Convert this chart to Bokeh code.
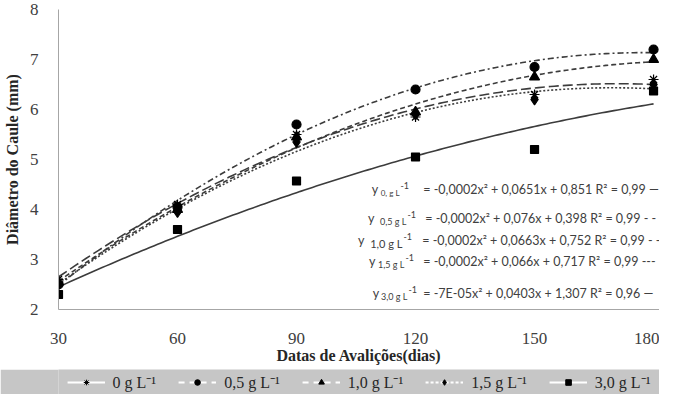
import numpy as np
from bokeh.plotting import figure
from bokeh.models import Legend, LegendItem, Label, FixedTicker, Range1d
from bokeh.layouts import column
from bokeh.embed import file_html
from bokeh.resources import INLINE

# ---------------- data ----------------
dias = [30, 60, 90, 120, 150, 180]
d_0g = [2.6, 4.1, 5.5, 5.85, 6.3, 6.6]
d_05g = [2.5, 4.05, 5.7, 6.4, 6.85, 7.2]
d_10g = [2.55, 4.0, 5.45, 5.95, 6.65, 7.0]
d_15g = [2.5, 3.95, 5.35, 5.9, 6.2, 6.5]
d_30g = [2.3, 3.6, 4.57, 5.05, 5.2, 6.37]

series_labels = ["0 g L⁻¹", "0,5 g L⁻¹", "1,0 g L⁻¹", "1,5 g L⁻¹", "3,0 g L⁻¹"]
eq_sub = ["0, g L", "0,5 g L", "1,0 g L", "1,5 g L", "3,0 g L"]
eq_text = [
    "= -0,0002x² + 0,0651x + 0,851 R² = 0,99 —",
    "= -0,0002x² + 0,076x + 0,398 R² = 0,99 - -",
    "= -0,0002x² + 0,0663x + 0,752 R² = 0,99  - -",
    "= -0,0002x² + 0,066x + 0,717 R² = 0,99 ---",
    "= -7E-05x² + 0,0403x + 1,307 R² = 0,96 —",
]
x_ticks = [30, 60, 90, 120, 150, 180]
y_ticks = [2, 3, 4, 5, 6, 7, 8]
x_title = "Datas de Avalições(dias)"
y_title = "Diâmetro do Caule (mm)"

series = [d_0g, d_05g, d_10g, d_15g, d_30g]

# ---------------- styles ----------------
markers = ["asterisk", "circle", "triangle", "diamond", "square"]
msizes = [10, 9, 10, 11, 8]
dashes = ["10 4", "6 3 2 3", "5 3", "2 2", "solid"]
leg_dashes = ["solid", "6 5", "6 5", "3 2", "solid"]
line_col = "#3c3c3c"
text_col = "#404040"
serif = "Liberation Serif"

X0, X1 = 30, 181.5
# page-pixel helpers (frame: x 59..667, y 17..317)
def X(px):
    return X0 + (px - 59) * (X1 - X0) / 608.0

def Y(py):
    return 2 + (317 - py) / 50.0

p = figure(width=659, height=369, output_backend="svg", toolbar_location=None,
           x_range=Range1d(X0, X1), y_range=Range1d(2, 8),
           min_border_left=51, min_border_right=0, min_border_top=9, min_border_bottom=60)
p.grid.visible = False
p.outline_line_color = None
p.background_fill_color = "white"

for ax in (p.xaxis[0], p.yaxis[0]):
    ax.axis_line_color = "#a6a6a6"
    ax.axis_line_width = 1
    ax.major_tick_line_color = None
    ax.minor_tick_line_color = None
    ax.major_label_text_font = serif
    ax.major_label_text_font_size = "17px"
    ax.major_label_text_color = text_col
    ax.axis_label_text_font = serif
    ax.axis_label_text_font_size = "16px"
    ax.axis_label_text_font_style = "bold"
    ax.axis_label_text_color = "#262626"

p.xaxis.ticker = FixedTicker(ticks=x_ticks)
p.yaxis.ticker = FixedTicker(ticks=y_ticks)
p.xaxis.axis_label = x_title
p.yaxis.axis_label = y_title
p.xaxis.major_label_standoff = 17
p.xaxis.axis_label_standoff = 0
p.yaxis.major_label_standoff = 14
p.yaxis.axis_label_standoff = 6

# trend lines (least-squares quadratic fitted to each series, as the chart's trendlines)
xs_fit = np.linspace(30, 180, 151)
for vals, dash in zip(series, dashes):
    c = np.polyfit(dias, vals, 2)
    p.line(xs_fit, np.polyval(c, xs_fit), line_color=line_col, line_width=1.6, line_dash=dash)

for vals, mk, ms in zip(series, markers, msizes):
    p.scatter(dias, vals, marker=mk, size=ms, fill_color="black", line_color="black", line_width=1.2)

# equation texts
rows_y = [197, 226, 248, 269, 301]
y_x = [376, 372, 362, 373, 377]
sup_x = [405, 412, 408, 410, 413]
sub_fs = ["8px", "9px", "11px", "9px", "9px"]
eq_x = [428, 430, 427, 428, 428]
for i in range(5):
    p.add_layout(Label(x=X(y_x[i]), y=Y(rows_y[i]), text="y", text_font="Lato",
                       text_font_size="12.5px", text_color=text_col,
                       text_baseline="middle", text_align="left"))
    p.add_layout(Label(x=X(sup_x[i] - 1), y=Y(rows_y[i] + 3), text=eq_sub[i], text_font="Lato",
                       text_font_size=sub_fs[i], text_color=text_col,
                       text_baseline="middle", text_align="right"))
    p.add_layout(Label(x=X(sup_x[i]), y=Y(rows_y[i] - 4), text="-1", text_font="Lato",
                       text_font_size="9px", text_color=text_col,
                       text_baseline="middle", text_align="left"))
    p.add_layout(Label(x=X(eq_x[i]), y=Y(rows_y[i]), text=eq_text[i], text_font="Lato",
                       text_font_size="12.5px", text_color=text_col,
                       text_baseline="middle", text_align="left"))

# legend strip
band = "#c6c6c6"
q = figure(width=659, height=25, output_backend="svg", toolbar_location=None,
           x_range=Range1d(0, 1), y_range=Range1d(0, 1),
           min_border_left=0, min_border_right=0, min_border_top=0, min_border_bottom=0)
q.axis.visible = False
q.grid.visible = False
q.outline_line_color = None
q.background_fill_color = band
q.border_fill_color = band

items = []
for lab, mk, dash in zip(series_labels, markers, leg_dashes):
    lr = q.line(x=[np.nan], y=[np.nan], line_color="white", line_width=2, line_dash=dash)
    sr = q.scatter(x=[np.nan], y=[np.nan], marker=mk, size=6, fill_color="black",
                   line_color="black", line_width=1)
    items.append(LegendItem(label=lab, renderers=[lr, sr]))

leg = Legend(items=items, orientation="horizontal", location="center",
             glyph_width=38, glyph_height=14, label_standoff=8, spacing=22,
             padding=2, margin=0, background_fill_alpha=0, border_line_color=None,
             label_text_font=serif, label_text_font_size="16px", label_text_color="#262626")
q.add_layout(leg, "center")

layout = column(p, q, spacing=0)
open("out.html", "w").write(file_html(layout, INLINE))
